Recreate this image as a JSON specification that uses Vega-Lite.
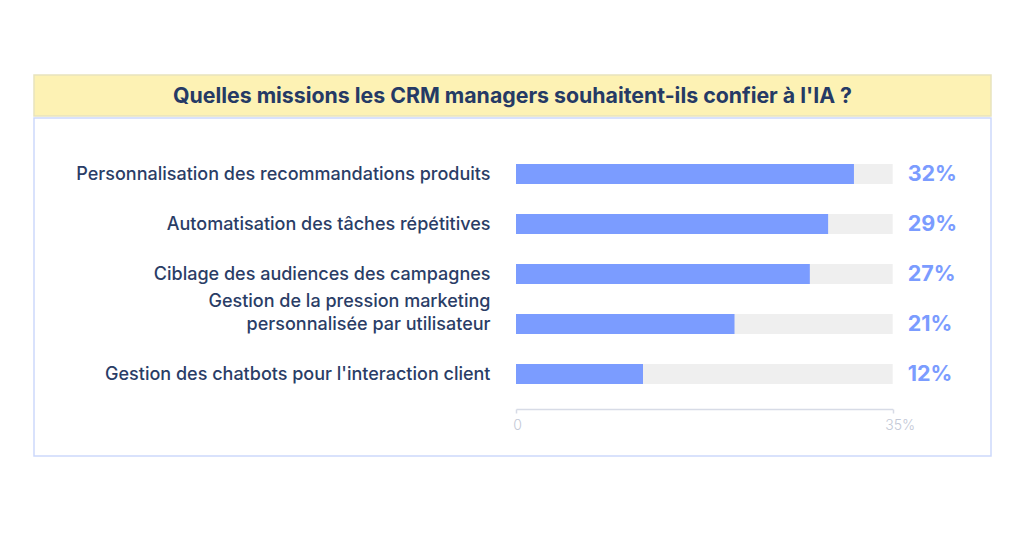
{
  "$schema": "https://vega.github.io/schema/vega-lite/v6.json",
  "background": "white",
  "padding": {"left": 33, "top": 74, "right": 0, "bottom": 0},
  "spacing": 0,
  "config": {"concat": {"spacing": 0}, "font": "Inter"},
  "vconcat": [
    {
      "width": 957,
      "height": 41,
      "view": {"fill": "#fdf2b4", "stroke": "#e8e3bd", "strokeWidth": 1.5},
      "data": {"values": [{"t": "Quelles missions les CRM managers souhaitent-ils confier à l'IA ?"}]},
      "mark": {"type": "text", "font": "Inter", "fontSize": 21.3, "fontWeight": "bold", "color": "#253a65", "align": "center", "baseline": "middle", "dy": 1},
      "encoding": {"text": {"field": "t"}}
    },
    {
      "width": 957,
      "height": 338,
      "view": {"fill": "white", "stroke": "#cdd9fc", "strokeWidth": 1.5},
      "data": {"values": [
        {"cat": "Personnalisation des recommandations produits", "value": 31.4, "label": "32%"},
        {"cat": "Automatisation des tâches répétitives", "value": 29.0, "label": "29%"},
        {"cat": "Ciblage des audiences des campagnes", "value": 27.3, "label": "27%"},
        {"cat": "Gestion de la pression marketing|personnalisée par utilisateur", "value": 20.3, "label": "21%"},
        {"cat": "Gestion des chatbots pour l'interaction client", "value": 11.8, "label": "12%"}
      ]},
      "layer": [
        {
          "mark": {"type": "bar", "color": "#efefef", "size": 20},
          "encoding": {
            "y": {
              "field": "cat", "type": "nominal", "sort": null,
              "scale": {"range": [31, 281], "paddingInner": 0, "paddingOuter": 0},
              "axis": {
                "orient": "left", "offset": -482, "domain": false, "ticks": false, "tickSize": 0,
                "labelPadding": 26, "labelFont": "Inter", "labelFontSize": 18, "labelFontWeight": 500,
                "labelColor": "#2a3d66", "labelLimit": 0, "labelBaseline": "bottom",
                "labelOffset": {"condition": {"test": "indexof(datum.label, '|') >= 0", "value": -13}, "value": 10},
                "labelLineHeight": 23, "labelExpr": "split(datum.label, '|')", "title": null
              }
            },
            "x": {
              "datum": 0, "type": "quantitative",
              "scale": {"domain": [0, 35], "range": [482, 858.7], "nice": false, "zero": true},
              "axis": {
                "orient": "bottom", "offset": -47, "values": [0, 35], "grid": false,
                "domainColor": "#d7dbe6", "domainWidth": 1.5, "tickColor": "#d7dbe6", "tickWidth": 1.5, "tickSize": 4,
                "labelFont": "Inter", "labelFontSize": 14, "labelFontWeight": 300, "labelColor": "#c3c8d6",
                "labelPadding": 5, "labelFlush": false,
                "labelExpr": "datum.value == 35 ? '35%' : '0'",
                "labelOffset": {"condition": {"test": "datum.value == 35", "value": 7}, "value": 1},
                "title": null
              }
            },
            "x2": {"datum": 35}
          }
        },
        {
          "mark": {"type": "bar", "color": "#7b9cff", "size": 20},
          "encoding": {
            "y": {"field": "cat", "type": "nominal", "sort": null},
            "x": {"field": "value", "type": "quantitative"}
          }
        },
        {
          "mark": {"type": "text", "align": "left", "baseline": "middle", "dx": 15, "dy": 1, "font": "Inter", "fontSize": 21.5, "fontWeight": "bold", "color": "#7b9cff"},
          "encoding": {
            "y": {"field": "cat", "type": "nominal", "sort": null},
            "x": {"datum": 35, "type": "quantitative"},
            "text": {"field": "label"}
          }
        }
      ]
    }
  ]
}
